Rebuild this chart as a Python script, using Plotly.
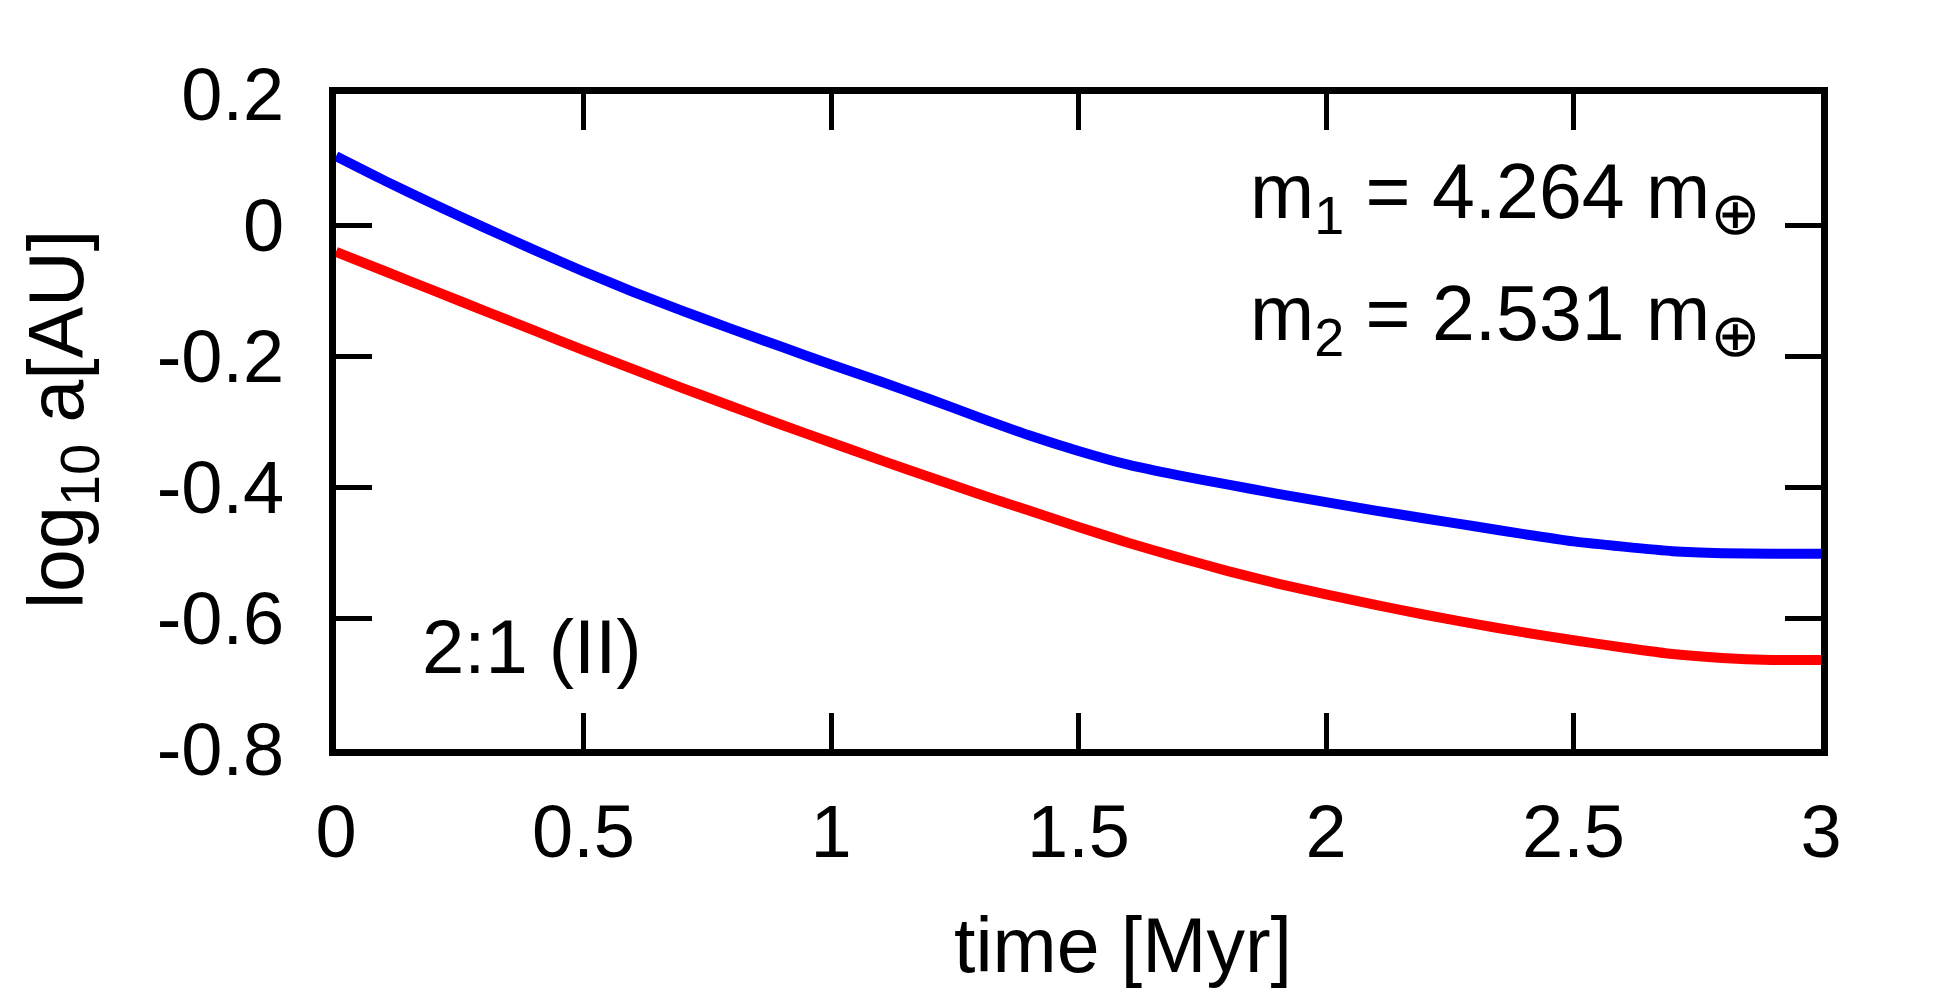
import plotly.graph_objects as go

# ---- data ----
time_myr = [0.0, 0.1, 0.2, 0.3, 0.4, 0.5, 0.6, 0.7, 0.8, 0.9, 1.0,
            1.1, 1.2, 1.3, 1.4, 1.5, 1.6, 1.7, 1.8, 1.9, 2.0,
            2.1, 2.2, 2.3, 2.4, 2.5, 2.6, 2.7, 2.8, 2.9, 3.0]

log_a1 = [0.105, 0.067, 0.031, -0.004, -0.038, -0.071, -0.102, -0.131, -0.159, -0.186, -0.213,
          -0.239, -0.266, -0.294, -0.321, -0.345, -0.366, -0.382, -0.396, -0.410, -0.423,
          -0.436, -0.448, -0.460, -0.472, -0.483, -0.491, -0.498, -0.501, -0.502, -0.502]

log_a2 = [-0.041, -0.071, -0.101, -0.131, -0.161, -0.191, -0.220, -0.249, -0.277, -0.305, -0.332,
          -0.359, -0.385, -0.411, -0.436, -0.461, -0.485, -0.507, -0.528, -0.547, -0.564,
          -0.580, -0.595, -0.609, -0.622, -0.634, -0.645, -0.655, -0.661, -0.664, -0.664]

x_tick_vals = [0, 0.5, 1, 1.5, 2, 2.5, 3]
x_tick_text = ["0", "0.5", "1", "1.5", "2", "2.5", "3"]
y_tick_vals = [-0.8, -0.6, -0.4, -0.2, 0, 0.2]
y_tick_text = ["-0.8", "-0.6", "-0.4", "-0.2", "0", "0.2"]

OPLUS = '<span style="font-family:DejaVu Sans;font-size:60px">⊕</span>'
label_m1 = "m<sub>1</sub> = 4.264 m<sub>" + OPLUS + "</sub>"
label_m2 = "m<sub>2</sub> = 2.531 m<sub>" + OPLUS + "</sub>"
label_res = "2:1 (II)"
x_title = "time [Myr]"
y_title = 'log<sub><span style="font-size:56px">10</span></sub> a[AU]'

FONT = "Liberation Sans, Arial, Helvetica, sans-serif"
FS = 74

fig = go.Figure()
fig.add_trace(go.Scatter(x=time_myr, y=log_a1, mode="lines",
                         line=dict(color="#0000ff", width=10, shape="spline", smoothing=0.6),
                         showlegend=False))
fig.add_trace(go.Scatter(x=time_myr, y=log_a2, mode="lines",
                         line=dict(color="#ff0000", width=10, shape="spline", smoothing=0.6),
                         showlegend=False))

axis_common = dict(showline=True, linewidth=7, linecolor="black", mirror="allticks",
                   ticks="inside", ticklen=36, tickwidth=5, tickcolor="black",
                   showgrid=False, zeroline=False,
                   tickfont=dict(family=FONT, size=FS, color="black"))

fig.update_xaxes(range=[0, 3], tickmode="array", tickvals=x_tick_vals, ticktext=x_tick_text,
                 ticklabelstandoff=12, **axis_common)
fig.update_yaxes(range=[-0.8, 0.2], tickmode="array", tickvals=y_tick_vals, ticktext=y_tick_text,
                 ticklabelstandoff=30, **axis_common)

# page has an 8px body margin; figure is sized so it fits the 1956x1000 window
OFF = 8
W, H = 1948, 992
L, R, T, B = 328, 135, 86, 251
pw, ph = W - L - R, H - T - B


def px_x(page_x):
    return (page_x - OFF - L) / pw


def px_y(page_y):
    return (H - B - (page_y - OFF)) / ph


annots = [
    dict(text=label_m1, x=px_x(1248), y=px_y(198), xanchor="left", yanchor="middle", fs=77),
    dict(text=label_m2, x=px_x(1248), y=px_y(320), xanchor="left", yanchor="middle", fs=77),
    dict(text=label_res, x=px_x(420), y=px_y(646), xanchor="left", yanchor="middle", fs=76),
    dict(text=x_title, x=px_x(1123), y=px_y(945), xanchor="center", yanchor="middle", fs=77),
    dict(text=y_title, x=px_x(62), y=px_y(420), xanchor="center", yanchor="middle",
         textangle=-90, fs=77),
]
for a in annots:
    fs = a.pop("fs", FS)
    fig.add_annotation(xref="paper", yref="paper", showarrow=False,
                       font=dict(family=FONT, size=fs, color="black"), **a)

fig.update_layout(width=W, height=H, margin=dict(l=L, r=R, t=T, b=B),
                  paper_bgcolor="white", plot_bgcolor="white")

fig.write_html("out.html")
